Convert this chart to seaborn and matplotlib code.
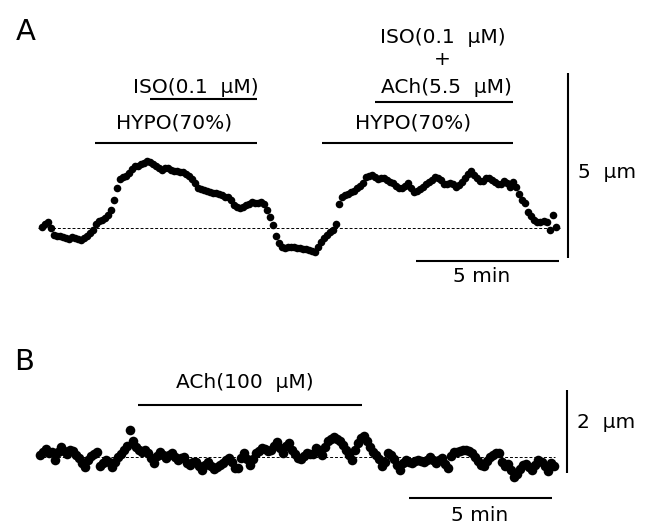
import numpy as np
import pandas as pd
import matplotlib
matplotlib.use("Agg")
import matplotlib.pyplot as plt
import seaborn as sns

# sampling interval of both recordings (min)
SAMPLE_MIN = 0.105

# panel A: cell length change (um), hypotonic + ISO, then hypotonic + ISO + ACh
cell_a = [0.03, 0.11, 0.16, 0.00, -0.19, -0.22, -0.22, -0.24, -0.27, -0.30,
          -0.24, -0.27, -0.30, -0.32, -0.27, -0.22, -0.14, -0.05, 0.11, 0.19,
          0.22, 0.27, 0.35, 0.49, 0.76, 1.08, 1.32, 1.38, 1.41, 1.49,
          1.59, 1.68, 1.68, 1.73, 1.76, 1.81, 1.78, 1.73, 1.68, 1.62,
          1.57, 1.62, 1.62, 1.57, 1.54, 1.54, 1.51, 1.51, 1.46, 1.41,
          1.32, 1.22, 1.08, 1.05, 1.03, 1.00, 0.97, 0.95, 0.95, 0.92,
          0.89, 0.84, 0.84, 0.76, 0.62, 0.57, 0.54, 0.57, 0.62, 0.65,
          0.70, 0.68, 0.68, 0.70, 0.65, 0.49, 0.30, 0.08, -0.22, -0.41,
          -0.51, -0.54, -0.51, -0.51, -0.51, -0.54, -0.54, -0.57, -0.57, -0.59,
          -0.62, -0.65, -0.51, -0.38, -0.27, -0.19, -0.11, -0.05, 0.11, 0.65,
          0.84, 0.89, 0.92, 0.97, 1.00, 1.08, 1.14, 1.22, 1.38, 1.41,
          1.43, 1.38, 1.32, 1.35, 1.35, 1.30, 1.24, 1.22, 1.14, 1.08,
          1.08, 1.14, 1.22, 1.08, 0.97, 1.00, 1.05, 1.11, 1.19, 1.24,
          1.30, 1.38, 1.35, 1.30, 1.19, 1.19, 1.22, 1.19, 1.11, 1.16,
          1.24, 1.35, 1.46, 1.54, 1.43, 1.35, 1.27, 1.27, 1.35, 1.35,
          1.30, 1.24, 1.19, 1.19, 1.27, 1.22, 1.11, 1.24, 1.11, 0.92,
          0.76, 0.68, 0.43, 0.32, 0.22, 0.16, 0.16, 0.19, 0.16, -0.05,
          0.35, 0.03]

# panel B: ACh 100 uM alone
cell_b = [0.05, 0.12, 0.19, 0.10, 0.12, -0.07, 0.12, 0.24, 0.14, 0.07,
          0.17, 0.14, 0.05, -0.02, -0.14, -0.24, -0.07, 0.02, 0.07, 0.12,
          -0.22, -0.14, -0.07, -0.12, -0.24, -0.12, 0.00, 0.07, 0.17, 0.27,
          0.65, 0.39, 0.24, 0.17, 0.12, 0.17, 0.10, -0.02, -0.14, 0.02,
          0.12, 0.05, -0.02, 0.05, 0.10, 0.00, -0.07, -0.02, 0.00, -0.14,
          -0.19, -0.12, -0.12, -0.22, -0.31, -0.19, -0.12, -0.22, -0.29, -0.24,
          -0.19, -0.14, -0.07, -0.02, -0.12, -0.27, -0.27, -0.02, 0.10, -0.05,
          -0.19, -0.05, 0.10, 0.14, 0.22, 0.19, 0.14, 0.17, 0.27, 0.36,
          0.22, 0.10, 0.27, 0.34, 0.17, 0.07, -0.02, -0.05, 0.02, 0.10,
          0.07, 0.07, 0.22, 0.17, 0.05, 0.24, 0.39, 0.43, 0.48, 0.43,
          0.39, 0.29, 0.17, 0.05, -0.07, 0.17, 0.34, 0.46, 0.51, 0.39,
          0.24, 0.12, 0.05, -0.05, -0.22, -0.12, 0.10, 0.05, -0.05, -0.19,
          -0.31, -0.14, -0.07, -0.12, -0.14, -0.10, -0.07, -0.10, -0.12, -0.07,
          0.00, -0.07, -0.14, -0.07, -0.02, -0.17, -0.27, 0.02, 0.12, 0.12,
          0.14, 0.17, 0.17, 0.14, 0.10, 0.00, -0.10, -0.19, -0.22, -0.10,
          0.00, 0.05, 0.10, 0.10, -0.12, -0.22, -0.17, -0.31, -0.48, -0.41,
          -0.29, -0.19, -0.17, -0.24, -0.31, -0.19, -0.07, -0.12, -0.22, -0.34,
          -0.14, -0.22]

# drug application periods (start, end) in min
hypo_a = [(1.85, 7.52), (9.79, 16.47)]
iso_a = [(3.78, 7.52)]
ach_iso_a = [(11.64, 16.47)]
ach_b = [(3.43, 11.26)]

df_a = pd.DataFrame({"t": np.arange(len(cell_a)) * SAMPLE_MIN, "um": cell_a})
df_b = pd.DataFrame({"t": np.arange(len(cell_b)) * SAMPLE_MIN, "um": cell_b})

sns.set_style("white")
plt.rcParams["font.family"] = ["DejaVu Sans"]
plt.rcParams["text.color"] = "black"

fig = plt.figure(figsize=(6.57, 5.27), dpi=100)
ax_a = fig.add_axes([0, 0.4307, 1, 0.5693])
ax_b = fig.add_axes([0, 0, 1, 0.4307])

PXM = 28.6  # px per minute
ax_a.set_xlim(-42 / PXM, 615 / PXM)
ax_a.set_ylim(-72 / 37, 228 / 37)
ax_b.set_xlim(-40 / PXM, 617 / PXM)
ax_b.set_ylim(-70 / 41.5, 157 / 41.5)

sns.scatterplot(data=df_a, x="t", y="um", ax=ax_a, color="black", s=30,
                linewidth=0, legend=False)
sns.scatterplot(data=df_b, x="t", y="um", ax=ax_b, color="black", s=48,
                linewidth=0, legend=False)

for ax in (ax_a, ax_b):
    ax.axis("off")

bar = dict(color="black", lw=1.5, solid_capstyle="butt")
txt = dict(fontsize=14.5, ha="center", va="center")

# ---- panel A
ax_a.hlines(0, -0.14, 18.11, colors="black", lw=0.7, linestyles=(0, (3, 2)))
for s, e in hypo_a:
    ax_a.plot([s, e], [2.31, 2.31], **bar)
for s, e in iso_a:
    ax_a.plot([s, e], [3.49, 3.49], **bar)
for s, e in ach_iso_a:
    ax_a.plot([s, e], [3.41, 3.41], **bar)
ax_a.text(5.38, 3.80, "ISO(0.1  μM)", **txt)
ax_a.text(4.62, 2.83, "HYPO(70%)", **txt)
ax_a.text(14.02, 5.16, "ISO(0.1  μM)", **txt)
ax_a.text(13.99, 4.56, "+", **txt)
ax_a.text(14.13, 3.80, "ACh(5.5  μM)", **txt)
ax_a.text(12.97, 2.83, "HYPO(70%)", **txt)
# scale bars
ax_a.plot([18.39, 18.39], [-0.8, 4.2], **bar)
ax_a.text(18.74, 1.51, "5  μm", fontsize=14.5, ha="left", va="center")
ax_a.plot([13.08, 18.08], [-0.89, -0.89], **bar)
ax_a.text(15.38, -1.32, "5 min", **txt)
ax_a.text(-0.56, 5.30, "A", fontsize=21, ha="center", va="center")

# ---- panel B
ax_b.hlines(0, -0.07, 18.0, colors="black", lw=0.7, linestyles=(0, (3, 2)))
for s, e in ach_b:
    ax_b.plot([s, e], [1.25, 1.25], **bar)
ax_b.text(7.17, 1.79, "ACh(100  μM)", **txt)
ax_b.plot([18.43, 18.43], [-0.39, 1.61], **bar)
ax_b.text(18.78, 0.82, "2  μm", fontsize=14.5, ha="left", va="center")
ax_b.plot([12.90, 17.90], [-0.99, -0.99], **bar)
ax_b.text(15.38, -1.40, "5 min", **txt)
ax_b.text(-0.56, 2.29, "B", fontsize=21, ha="center", va="center")

fig.savefig("out.png", dpi=100, facecolor="white")
